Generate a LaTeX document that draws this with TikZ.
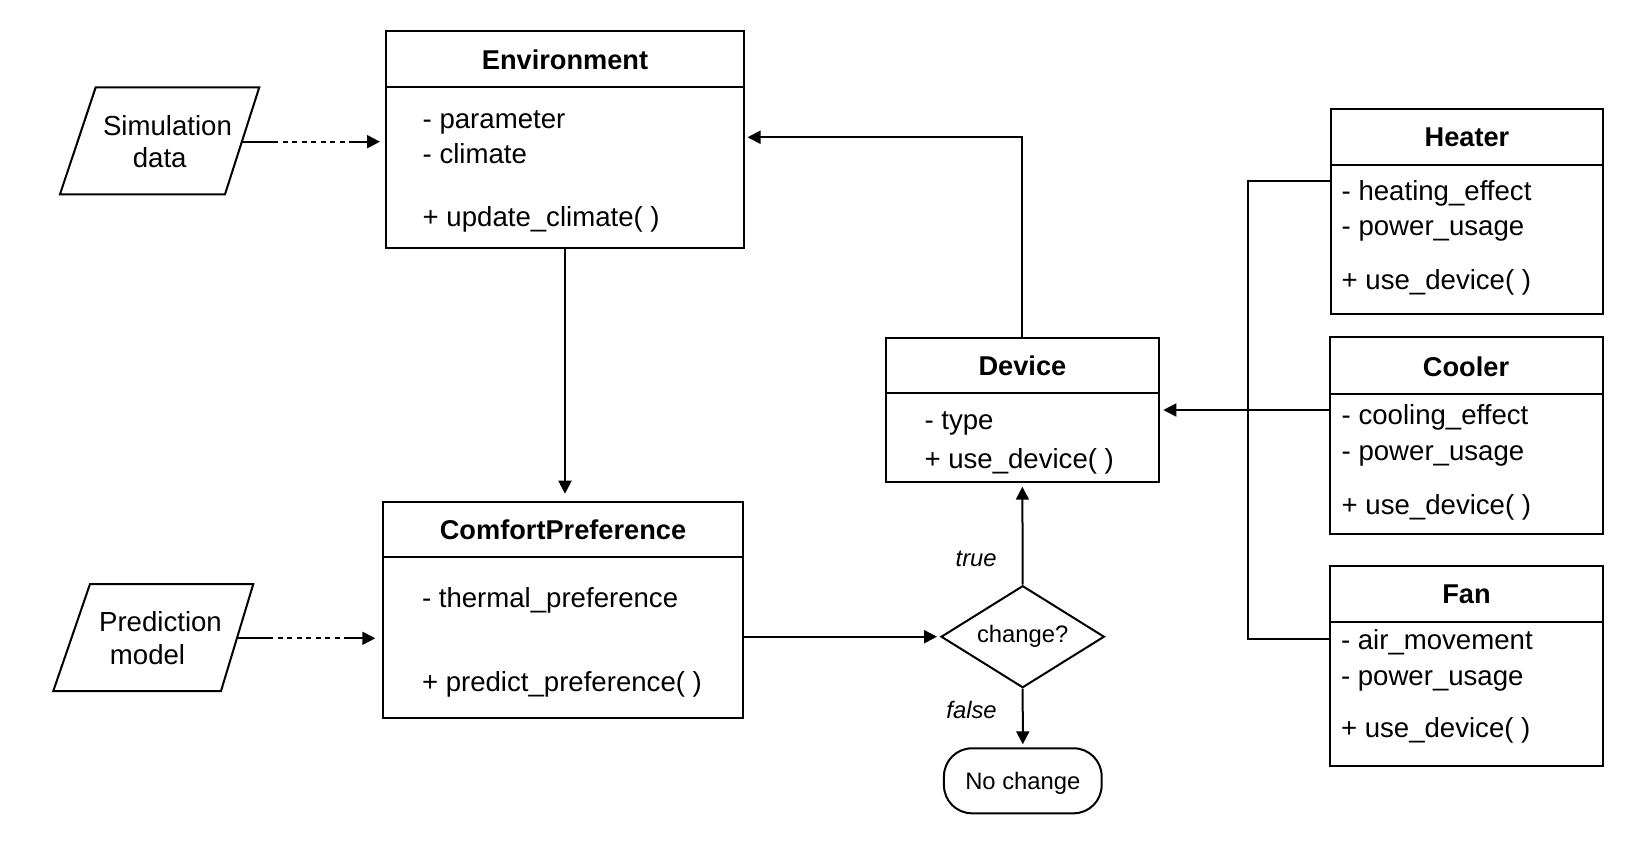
\documentclass[tikz,border=0pt]{standalone}
\usepackage{fontspec}
\setmainfont{Liberation Sans}
\usetikzlibrary{arrows.meta,shapes.geometric,calc}
\begin{document}
\begin{tikzpicture}[x=1pt,y=-1pt,line width=2pt,
  cls/.style={draw,line width=2pt,inner sep=0pt,outer sep=0pt,anchor=north west},
  ttl/.style={anchor=base,inner sep=0pt,font=\fontsize{27.2}{32}\selectfont\bfseries},
  att/.style={anchor=base west,inner sep=0pt,font=\fontsize{27.6}{33}\selectfont},
  lbl/.style={inner sep=0pt,font=\fontsize{23.8}{28}\selectfont},
  arr/.style={-{Triangle[length=13pt,width=13pt]},line width=2pt},
  dots/.style={arr,dash pattern=on 36.6pt off 4.5pt on 5pt off 4.5pt on 5pt off 4.5pt on 5pt off 4.5pt on 5pt off 4.5pt on 5pt off 4.5pt on 5pt off 4.5pt on 5pt off 4.5pt on 80pt},
  para/.style={draw,line width=2pt,line join=miter}
]
\useasboundingbox (0,0) rectangle (1647,867);

% ---------- Environment ----------
\node[cls,minimum width=358pt,minimum height=217.3pt] (env) at (386,31) {};
\draw ($(env.north west)+(0,55.7)$) -- ($(env.north east)+(0,55.7)$);
\node[ttl] (envT) at (565,69.3) {Environment};
\node[att] (envA1) at (421.7,128.3) {- parameter};
\node[att] (envA2) at (421.7,163.3) {- climate};
\node[att] (envM1) at (421.7,226.7) {+ update\_climate( )};

% ---------- ComfortPreference ----------
\node[cls,minimum width=359.4pt,minimum height=216.6pt] (comf) at (383.3,501.7) {};
\draw ($(comf.north west)+(0,55)$) -- ($(comf.north east)+(0,55)$);
\node[ttl] (comfT) at (563,539.3) {ComfortPreference};
\node[att] (comfA1) at (421,607) {- thermal\_preference};
\node[att] (comfM1) at (421,691) {+ predict\_preference( )};

% ---------- Device ----------
\node[cls,minimum width=272.7pt,minimum height=143.4pt] (dev) at (886,338.3) {};
\draw ($(dev.north west)+(0,54.4)$) -- ($(dev.north east)+(0,54.4)$);
\node[ttl] (devT) at (1022.4,375) {Device};
\node[att] (devA1) at (923.5,429) {- type};
\node[att] (devM1) at (923.5,468.5) {+ use\_device( )};

% ---------- Heater ----------
\node[cls,minimum width=272.3pt,minimum height=205.3pt] (heat) at (1331,109) {};
\draw ($(heat.north west)+(0,56)$) -- ($(heat.north east)+(0,56)$);
\node[ttl] (heatT) at (1467,146.7) {Heater};
\node[att] (heatA1) at (1340.7,200) {- heating\_effect};
\node[att] (heatA2) at (1340.7,235.5) {- power\_usage};
\node[att] (heatM1) at (1340.7,289) {+ use\_device( )};

% ---------- Cooler ----------
\node[cls,minimum width=273.3pt,minimum height=197pt] (cool) at (1329.5,337.3) {};
\draw ($(cool.north west)+(0,56.7)$) -- ($(cool.north east)+(0,56.7)$);
\node[ttl] (coolT) at (1466,376.5) {Cooler};
\node[att] (coolA1) at (1340.7,424) {- cooling\_effect};
\node[att] (coolA2) at (1340.7,460.5) {- power\_usage};
\node[att] (coolM1) at (1340.7,514) {+ use\_device( )};

% ---------- Fan ----------
\node[cls,minimum width=272.7pt,minimum height=200.3pt] (fan) at (1330,566) {};
\draw ($(fan.north west)+(0,55.7)$) -- ($(fan.north east)+(0,55.7)$);
\node[ttl] (fanT) at (1466.5,603.5) {Fan};
\node[att] (fanA1) at (1340,649.3) {- air\_movement};
\node[att] (fanA2) at (1340,685) {- power\_usage};
\node[att] (fanM1) at (1340,737.5) {+ use\_device( )};

% ---------- Inputs (parallelograms) ----------
\draw[para] (95.7,87.3) -- (259.3,87.3) -- (225,194.3) -- (60,194.3) -- cycle;
\node[att,anchor=base] (sim1) at (167.5,135) {Simulation};
\node[att,anchor=base] (sim2) at (159.7,167.7) {data};
\coordinate (simR) at (241.7,141.7);

\draw[para] (90,584) -- (253.3,584) -- (221,691) -- (53.3,691) -- cycle;
\node[att,anchor=base] (pred1) at (160.5,631.7) {Prediction};
\node[att,anchor=base] (pred2) at (147.5,664.3) {model};
\coordinate (predR) at (236.7,638.3);

% ---------- Decision and terminator ----------
\node[draw,diamond,aspect=1.6,minimum width=163.3pt,minimum height=102pt,lbl,line width=2pt] (dia) at (1022.7,636.7) {change?};
\node[draw,rounded corners=28pt,minimum width=157.7pt,minimum height=65pt,lbl,text depth=0pt,line width=2pt] (noch) at (1022.8,780.8) {No change};
\node[lbl,anchor=base east,font=\fontsize{23.8}{28}\selectfont\itshape] (tl) at (997.7,566) {true};
\node[lbl,anchor=base east,font=\fontsize{23.8}{28}\selectfont\itshape] (fl) at (997.7,718.3) {false};

% ---------- Connectors ----------
\draw[dots,shorten >=6pt] (simR) -- (env.west |- simR);
\draw[dots,shorten >=8pt] (predR) -- (comf.west |- predR);
\draw[arr,shorten >=8pt] (env.south) -- (env.south |- comf.north);
\draw[arr,shorten >=3pt] (comf.east |- dia.west) -- (dia.west);
\draw[arr,shorten >=5pt] (dia.north) -- (dev.south);
\draw[arr,shorten >=3pt] (dia.south) -- (noch.north);
\draw[arr,shorten >=3.5pt] (dev.north) |- ([yshift=2.4pt]env.east);
\draw[arr,shorten >=4.6pt] (cool.west |- dev.east) -- (dev.east);
\draw (heat.west |- 0,180.5) -- ++(-83,0) |- (fan.west |- 0,639);
\end{tikzpicture}
\end{document}
